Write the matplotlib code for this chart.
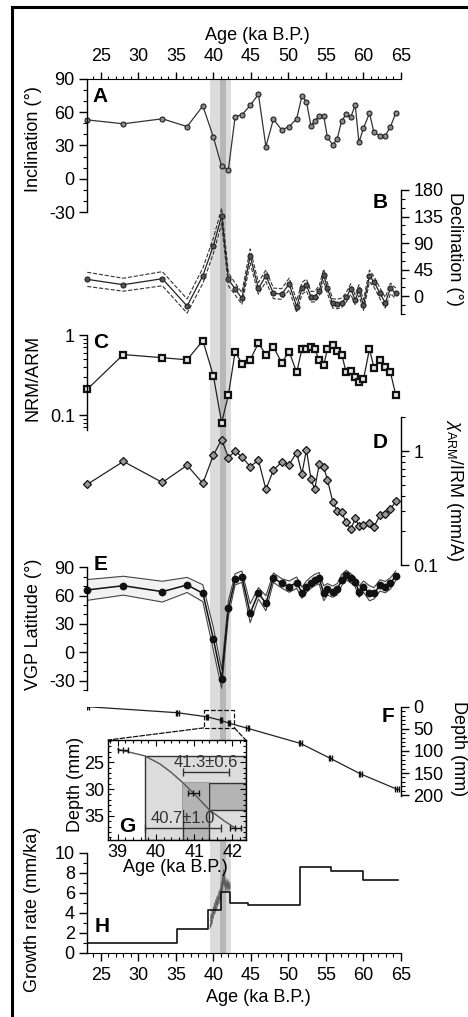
import matplotlib
matplotlib.use('Agg')
import matplotlib.pyplot as plt
from matplotlib.lines import Line2D
from matplotlib.patches import Rectangle, ConnectionPatch
from matplotlib.ticker import MultipleLocator, FixedLocator, NullFormatter, LogLocator, FixedFormatter

plt.rcParams['font.family'] = ['Liberation Sans', 'DejaVu Sans']
plt.rcParams['mathtext.fontset'] = 'custom'
plt.rcParams['mathtext.rm'] = 'Liberation Sans'
plt.rcParams['mathtext.it'] = 'Liberation Sans:italic'
plt.rcParams['axes.unicode_minus'] = False

# ---------------- data ----------------
age = [23.2, 28.0, 33.2, 36.5, 38.6, 40.0, 41.1, 42.0, 42.9, 43.8, 44.9, 46.0, 47.0,
       48.0, 49.1, 50.1, 51.1, 51.8, 52.4, 53.0, 53.5, 54.1, 54.7, 55.2, 55.9, 56.5,
       57.1, 57.7, 58.3, 58.9, 59.4, 60.0, 60.8, 61.4, 62.2, 62.9, 63.6, 64.3]
inclination = [53, 49.5, 54, 47, 65.6, 37.6, 11.3, 8.3, 56, 57.5, 66, 76, 29, 53.7, 44, 47,
               54, 74.5, 69.4, 47.7, 52, 56.6, 56.6, 37.2, 30.7, 36, 52.4, 58, 55.4, 66.2,
               32.7, 45.6, 59, 41.7, 38.7, 38.7, 47, 59]
declination = [28.3, 19.2, 29.4, -17, 34.5, 85.4, 136, 28.3, 11.9, -4, 68, 13, 34.5, 4.5,
               3.4, 20.4, -18, 13, 18.7, -1, -1, 8.5, 35.7, 13, -12.5, -13.6, -11.3, -2.3,
               11.9, -6.8, 10.2, -15.3, 34, 24.3, 4.5, -11.3, 13, 4.5]
declination_err = [12, 11, 12, 12, 13, 13, 13, 11, 10, 10, 12, 10, 10, 9, 9, 10, 10, 10, 10,
                   9, 9, 9, 10, 9, 8, 8, 8, 8, 9, 8, 9, 9, 10, 9, 9, 9, 9, 9]
nrm_arm = [0.21, 0.57, 0.52, 0.49, 0.85, 0.31, 0.080, 0.178, 0.62, 0.44, 0.49, 0.79, 0.57,
           0.71, 0.45, 0.62, 0.34, 0.67, 0.67, 0.71, 0.66, 0.49, 0.42, 0.67, 0.76, 0.64,
           0.57, 0.34, 0.36, 0.30, 0.26, 0.28, 0.67, 0.39, 0.49, 0.40, 0.34, 0.178]
chi_arm_irm = [0.51, 0.81, 0.53, 0.75, 0.52, 0.92, 1.26, 0.875, 1.0, 0.89, 0.73, 0.83, 0.46,
               0.68, 0.80, 0.76, 0.97, 0.63, 1.03, 0.57, 0.46, 0.77, 0.72, 0.56, 0.36, 0.30,
               0.29, 0.236, 0.205, 0.256, 0.22, 0.224, 0.234, 0.216, 0.274, 0.279, 0.307, 0.363]
vgp_lat = [66, 70.5, 64.2, 71.3, 62.5, 14.1, -28.2, 46.6, 77.3, 80, 41.3, 62.5, 51.9, 79, 73,
           69.5, 73.7, 63.1, 69.5, 73.7, 76.6, 78.4, 62.5, 66.7, 64.2, 66.7, 76.6, 81.9, 78.4,
           74.4, 64.2, 69.5, 62.5, 62.5, 70.8, 69, 73, 81.1]
vgp_err = [11, 10, 11, 8, 9, 12, 10, 8, 6, 6, 10, 6, 8, 5, 5, 6, 6, 6, 6, 6, 6, 6, 8, 6, 6, 6,
           6, 5, 5, 5, 6, 6, 8, 6, 6, 6, 6, 5]

# age-depth model (F)
dating_age = [23.2, 35.2, 39.14, 40.98, 42.08, 44.6, 51.6, 55.6, 59.6, 64.5]
dating_depth = [0, 13.6, 22.8, 30.8, 37.3, 49, 83, 117, 152, 187]
dating_err = [0.2, 0.2, 0.13, 0.15, 0.15, 0.2, 0.2, 0.25, 0.25, 0.25]

# inset G
g_curve_age = [39.0, 39.7, 40.1, 40.4, 40.7, 41.0, 41.4, 41.8, 42.1]
g_curve_depth = [22.6, 23.8, 25.3, 26.9, 28.8, 30.9, 33.9, 36.0, 37.4]
g_pts_age = [39.14, 40.98, 42.08]
g_pts_depth = [22.8, 30.8, 37.3]
g_pts_err = [0.13, 0.15, 0.15]
g_events = [("41.3±0.6", 41.3, 0.6, 26.8), ("40.7±1.0", 40.7, 1.0, 37.2)]

# growth rate (H)
gr_edges = [23.2, 35.2, 39.3, 41.0, 42.2, 44.6, 51.6, 55.7, 59.9, 64.6]
gr_rates = [1.0, 2.33, 4.27, 6.1, 5.0, 4.77, 8.53, 8.2, 7.3]
mc_age = [39.55, 39.7, 39.85, 40.0, 40.15, 40.3, 40.45, 40.6, 40.75, 40.9, 41.05, 41.2,
          41.35, 41.5, 41.65, 41.8, 41.95, 42.1, 42.25]
mc_runs = [
    [2.4, 3.3, 2.9, 4.1, 3.8, 4.6, 4.3, 5.2, 4.9, 5.9, 5.6, 6.8, 7.9, 6.6, 7.2, 6.3, 6.9, 6.5, 6.8],
    [2.8, 2.6, 3.7, 3.4, 4.5, 4.0, 5.1, 4.7, 5.6, 5.2, 6.6, 6.1, 7.2, 7.0, 6.1, 7.4, 6.5, 7.1, 6.4],
    [3.2, 3.9, 3.5, 4.6, 4.2, 5.3, 4.8, 5.8, 5.3, 6.4, 6.0, 7.6, 6.8, 7.8, 6.6, 7.0, 6.2, 6.8, 7.0],
    [2.6, 3.0, 4.2, 3.9, 5.0, 4.4, 5.6, 5.1, 6.2, 5.8, 7.1, 6.4, 8.3, 7.1, 6.9, 6.6, 7.3, 6.2, 6.6],
]

band_light = (39.5, 42.4)
band_dark = (40.9, 41.7)

# ---------------- layout ----------------
W, H = 468, 1017
fig = plt.figure(figsize=(W / 100, H / 100), dpi=100)
XL, XR = 87.3, 401.0
XLIM = (23.2, 65)
FS = 13


def rect(l, t, r, b):
    return [l / W, 1 - b / H, (r - l) / W, (b - t) / H]


def fx(p):
    return p / W


def fy(p):
    return 1 - p / H


# background band
bg = fig.add_axes(rect(XL, 78.7, XR, 952.7), zorder=0)
bg.set_xlim(*XLIM)
bg.set_ylim(0, 1)
bg.axis('off')
bg.axvspan(*band_light, color='#dcdcdd', lw=0)
bg.axvspan(*band_dark, color='#b7b7b9', lw=0)


def panel(t, b, side, ylim):
    ax = fig.add_axes(rect(XL, t, XR, b), zorder=2)
    ax.set_facecolor('none')
    ax.set_xlim(*XLIM)
    ax.set_ylim(*ylim)
    for s in ax.spines.values():
        s.set_visible(False)
    ax.spines[side].set_visible(True)
    ax.spines[side].set_linewidth(1.0)
    ax.tick_params(axis='x', which='both', bottom=False, top=False,
                   labelbottom=False, labeltop=False)
    if side == 'right':
        ax.yaxis.tick_right()
    else:
        ax.yaxis.tick_left()
    ax.tick_params(axis='y', which='major', length=6, width=1.0, direction='out',
                   labelsize=FS, pad=3)
    ax.tick_params(axis='y', which='minor', length=3, width=0.8, direction='out')
    return ax


# ---- A: inclination
axA = panel(78.7, 212.3, 'left', (-30, 90))
axA.spines['top'].set_visible(True)
axA.xaxis.tick_top()
axA.xaxis.set_major_locator(MultipleLocator(5))
axA.xaxis.set_minor_locator(MultipleLocator(1))
axA.tick_params(axis='x', which='major', top=True, labeltop=True, length=5, width=1.0,
                direction='out', labelsize=FS, pad=5)
axA.tick_params(axis='x', which='minor', top=True, length=2.5, width=0.8, direction='out')
axA.set_xlim(*XLIM)
axA.yaxis.set_major_locator(MultipleLocator(30))
axA.yaxis.set_minor_locator(MultipleLocator(10))
axA.plot(age, inclination, '-o', color='#333333', lw=0.9, ms=3.6, mfc='#8a8a8a',
         mec='#222222', mew=0.8, clip_on=False)

# ---- B: declination
axB = panel(190, 313.7, 'right', (-30, 180))
axB.yaxis.set_major_locator(FixedLocator([0, 45, 90, 135, 180]))
axB.yaxis.set_minor_locator(MultipleLocator(15))
up = [d + e for d, e in zip(declination, declination_err)]
lo = [d - e for d, e in zip(declination, declination_err)]
axB.plot(age, up, '--', color='#333333', lw=0.8)
axB.plot(age, lo, '--', color='#333333', lw=0.8)
axB.plot(age, declination, '-o', color='#222222', lw=0.9, ms=3.6, mfc='#555555',
         mec='#222222', mew=0.8, clip_on=False)

# ---- C: NRM/ARM
axC = panel(335, 430, 'left', (0.065, 1.0))
axC.set_yscale('log')
axC.set_ylim(0.065, 1.0)
axC.yaxis.set_major_locator(FixedLocator([0.1, 1]))
axC.yaxis.set_major_formatter(FixedFormatter(['0.1', '1']))
axC.yaxis.set_minor_locator(LogLocator(base=10, subs=[2, 3, 4, 5, 6, 7, 8, 9]))
axC.yaxis.set_minor_formatter(NullFormatter())
axC.plot(age, nrm_arm, '-s', color='#222222', lw=0.9, ms=3.8, mfc='#e8e8e8',
         mec='#111111', mew=1.6, clip_on=False)

# ---- D: chi_ARM/IRM
axD = panel(416.7, 565, 'right', (0.1, 2.0))
axD.set_yscale('log')
axD.set_ylim(0.1, 2.0)
axD.yaxis.set_major_locator(FixedLocator([0.1, 1]))
axD.yaxis.set_major_formatter(FixedFormatter(['0.1', '1']))
axD.yaxis.set_minor_locator(LogLocator(base=10, subs=[2, 3, 4, 5, 6, 7, 8, 9]))
axD.yaxis.set_minor_formatter(NullFormatter())
axD.plot(age, chi_arm_irm, '-D', color='#222222', lw=0.9, ms=4.0, mfc='#9a9a9a',
         mec='#111111', mew=0.9, clip_on=False)

# ---- E: VGP latitude
axE = panel(567.3, 690, 'left', (-40, 90))
axE.yaxis.set_major_locator(FixedLocator([-30, 0, 30, 60, 90]))
axE.yaxis.set_minor_locator(MultipleLocator(10))
eu = [v + e for v, e in zip(vgp_lat, vgp_err)]
el = [v - e for v, e in zip(vgp_lat, vgp_err)]
axE.fill_between(age, el, eu, facecolor='#f2f2f2', edgecolor='none', lw=0)
axE.plot(age, eu, '-', color='#444444', lw=0.8)
axE.plot(age, el, '-', color='#444444', lw=0.8)
axE.plot(age, vgp_lat, '-o', color='#111111', lw=1.1, ms=4.6, mfc='#111111',
         mec='#111111', clip_on=False)

# ---- F: depth
axF = panel(706.7, 796, 'right', (202, 0))
axF.yaxis.set_major_locator(MultipleLocator(50))
axF.yaxis.set_minor_locator(MultipleLocator(10))
axF.plot(dating_age, dating_depth, '-', color='#222222', lw=0.9)
axF.errorbar(dating_age, dating_depth, xerr=dating_err, fmt='none', ecolor='#111111',
             elinewidth=1.0, capsize=2, capthick=1.0)
axF.plot(dating_age, dating_depth, '|', color='#111111', ms=4, mew=1.0)
axF.add_patch(Rectangle((38.7, 8), 4.1, 40, fill=False, ls='--', lw=0.9, ec='#111111'))

# ---- G: inset
axG = fig.add_axes(rect(108.3, 740, 245.7, 840), zorder=5)
axG.set_facecolor('white')
axG.set_xlim(38.75, 42.35)
axG.set_ylim(39.5, 20.85)
axG.add_patch(Rectangle((39.7, 23.8), 42.35 - 39.7, 39.5 - 23.8, fc='#dcdcdc',
                        ec='#333333', lw=1.0))
axG.add_patch(Rectangle((40.7, 28.8), 42.35 - 40.7, 33.9 - 28.8, fc='#b4b4b4',
                        ec='#333333', lw=1.0))
axG.add_patch(Rectangle((40.7, 28.8), 41.4 - 40.7, 39.5 - 28.8, fc='#b4b4b4',
                        ec='#333333', lw=1.0))
axG.add_patch(Rectangle((40.71, 28.85), 41.39 - 40.71, 33.85 - 28.85, fc='#b4b4b4', lw=0))
axG.plot(g_curve_age, g_curve_depth, '-', color='#555555', lw=1.0)
axG.errorbar(g_pts_age, g_pts_depth, xerr=g_pts_err, fmt='none', ecolor='#111111',
             elinewidth=1.0, capsize=2, capthick=1.0)
axG.plot(g_pts_age, g_pts_depth, '|', color='#111111', ms=4, mew=1.0)
for lab, c, e, d in g_events:
    axG.errorbar([c], [d], xerr=[e], fmt='none', ecolor='#333333', elinewidth=1.0,
                 capsize=3, capthick=1.0)
    axG.text(c, d - 1.75, lab, ha='center', va='center', fontsize=12, color='#333333')
axG.xaxis.set_major_locator(MultipleLocator(1))
axG.xaxis.set_minor_locator(MultipleLocator(0.2))
axG.yaxis.set_major_locator(MultipleLocator(5))
axG.yaxis.set_minor_locator(MultipleLocator(1))
axG.tick_params(which='both', direction='in', top=True, right=True, width=0.8)
axG.tick_params(which='major', length=4, labelsize=FS, pad=3)
axG.tick_params(which='minor', length=2)
for s in axG.spines.values():
    s.set_linewidth(1.0)
axG.text(0.14, 0.13, 'G', transform=axG.transAxes, ha='center', va='center',
         fontsize=15, fontweight='bold')

for xa, xb in [((38.7, 48), (0, 1)), ((42.8, 48), (1, 1))]:
    cp = ConnectionPatch(xyA=xa, coordsA=axF.transData, xyB=xb, coordsB=axG.transAxes,
                         ls='--', lw=0.9, color='#111111')
    fig.add_artist(cp)

# ---- H: growth rate
axH = panel(852.7, 952.7, 'left', (0, 10))
axH.spines['bottom'].set_visible(True)
axH.xaxis.tick_bottom()
axH.xaxis.set_major_locator(MultipleLocator(5))
axH.xaxis.set_minor_locator(MultipleLocator(1))
axH.tick_params(axis='x', which='major', bottom=True, labelbottom=True, length=5.5,
                width=1.0, direction='out', labelsize=FS, pad=5)
axH.tick_params(axis='x', which='minor', bottom=True, length=3, width=0.8, direction='out')
axH.set_xlim(*XLIM)
axH.yaxis.set_major_locator(MultipleLocator(2))
axH.yaxis.set_minor_locator(MultipleLocator(1))
for run in mc_runs:
    axH.plot(mc_age, run, '-', color='#555555', lw=0.6, alpha=0.8)
axH.step(gr_edges, gr_rates + [gr_rates[-1]], where='post', color='#111111', lw=1.2)

# ---------------- texts ----------------
fig.text(fx(257), fy(36), 'Age (ka B.P.)', ha='center', va='center', fontsize=FS)
fig.text(fx(258), fy(998), 'Age (ka B.P.)', ha='center', va='center', fontsize=FS)
fig.text(fx(175), fy(868), 'Age (ka B.P.)', ha='center', va='center', fontsize=FS)

fig.text(fx(33), fy(139), 'Inclination (°)', rotation=90, ha='center', va='center', fontsize=FS)
fig.text(fx(33), fy(378), 'NRM/ARM', rotation=90, ha='center', va='center', fontsize=FS)
fig.text(fx(33), fy(624), 'VGP Latitude (°)', rotation=90, ha='center', va='center', fontsize=FS)
fig.text(fx(33), fy(909), 'Growth rate (mm/ka)', rotation=90, ha='center', va='center', fontsize=FS)
fig.text(fx(75), fy(784), 'Depth (mm)', rotation=90, ha='center', va='center', fontsize=FS)

fig.text(fx(455), fy(249), 'Declination (°)', rotation=270, ha='center', va='center', fontsize=FS)
fig.text(fx(455), fy(490), r'$\chi_{\mathrm{ARM}}$/IRM (mm/A)', rotation=270, ha='center',
         va='center', fontsize=FS)
fig.text(fx(458), fy(749), 'Depth (mm)', rotation=270, ha='center', va='center', fontsize=FS)

for lab, x, y in [('A', 100, 97), ('B', 380, 203), ('C', 101, 342), ('D', 380, 443),
                  ('E', 101, 564), ('F', 388, 716), ('H', 102, 927)]:
    fig.text(fx(x), fy(y), lab, ha='center', va='center', fontsize=15, fontweight='bold')

# figure frame (left and top)
fig.add_artist(Line2D([fx(12), fx(12)], [fy(7.3), 0], color='black', lw=2.2,
                      transform=fig.transFigure))
fig.add_artist(Line2D([fx(12), 1], [fy(7.3), fy(7.3)], color='black', lw=2.2,
                      transform=fig.transFigure))

fig.savefig('out.png', dpi=100)
